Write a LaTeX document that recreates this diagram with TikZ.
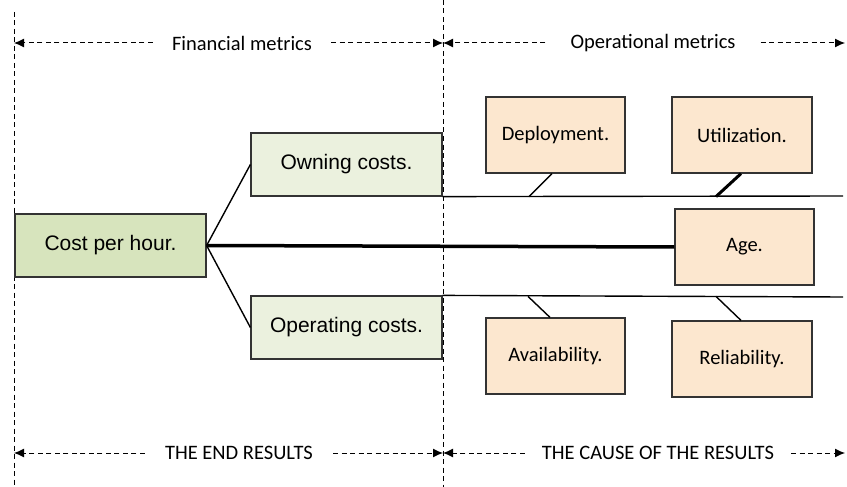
\documentclass[tikz,border=0pt]{standalone}
\usepackage{fontspec}
\setmainfont{Carlito}
\newfontfamily\arialfont{Liberation Sans}
\usetikzlibrary{arrows.meta}

\definecolor{costgreen}{HTML}{D7E4BD}
\definecolor{palegreen}{HTML}{EBF1DE}
\definecolor{peach}{HTML}{FCE7CF}
\definecolor{edgegray}{HTML}{333333}

\tikzset{
  greenbox/.style={draw=edgegray, line width=1.2pt, minimum width=191pt, minimum height=63pt,
    font=\arialfont\fontsize{21}{25}\selectfont, inner sep=0pt},
  factorbox/.style={draw=edgegray, line width=1.2pt, fill=peach, minimum height=76pt,
    font=\fontsize{20.5}{24}\selectfont, inner sep=0pt},
  divider/.style={line width=1pt, dash pattern=on 5pt off 3.5pt},
  span/.style={line width=1pt, dash pattern=on 5pt off 3.5pt,
    -{Latex[length=10pt,width=9pt]}},
  spanlabel/.style={font=\fontsize{20.5}{24}\selectfont, inner ysep=0pt},
  branch/.style={line width=1.4pt},
  trunk/.style={line width=3.5pt},
}

\begin{document}
\begin{tikzpicture}[x=1pt, y=-1pt]
  \useasboundingbox (0,0) rectangle (847,487);

  % vertical dividers
  \coordinate (leftTop) at (14,12);
  \coordinate (leftBot) at (14,487);
  \coordinate (midTop) at (443,0);
  \coordinate (midBot) at (443,487);
  \draw[divider] (leftTop) -- (leftBot);
  \draw[divider] (midTop) -- (midBot);

  % span end points
  \coordinate (tl) at (14,43);
  \coordinate (tm) at (443,43);
  \coordinate (tr) at (845,43);
  \coordinate (bl) at (14,453);
  \coordinate (bm) at (443,453);
  \coordinate (br) at (845,453);

  % top spans
  \node[spanlabel, inner xsep=19pt] (fin) at (242,43) {Financial metrics};
  \draw[span] (fin.west) -- (tl);
  \draw[span] (fin.east) -- (tm);
  \node[spanlabel, inner xsep=25pt] (ops) at (653,43) {Operational metrics};
  \draw[span] (ops.west) -- (tm);
  \draw[span] (ops.east) -- (tr);

  % bottom spans
  \node[spanlabel, inner xsep=20pt] (endres) at (239,453) {THE END RESULTS};
  \draw[span] (endres.west) -- (bl);
  \draw[span] (endres.east) -- (bm);
  \node[spanlabel, inner xsep=17pt] (cause) at (658,453) {THE CAUSE OF THE RESULTS};
  \draw[span] (cause.west) -- (bm);
  \draw[span] (cause.east) -- (br);

  % cost boxes
  \node[greenbox, fill=costgreen] (cost) at (110.5,245.5) {Cost per hour.};
  \node[greenbox, fill=palegreen] (own) at (346.5,164.5) {Owning costs.};
  \node[greenbox, fill=palegreen] (oper) at (346.5,327.5) {Operating costs.};

  % factor boxes
  \node[factorbox, minimum width=139pt] (dep) at (555.5,135) {Deployment.};
  \node[factorbox, minimum width=140pt] (util) at (742,135) {Utilization.};
  \node[factorbox, minimum width=139pt] (age) at (744.5,247) {Age.};
  \node[factorbox, minimum width=139pt] (avail) at (555.5,356) {Availability.};
  \node[factorbox, minimum width=140pt] (rel) at (742,359) {Reliability.};

  % spines
  \coordinate (topEnd) at (843,196);
  \coordinate (botEnd) at (843,297);
  \draw[branch] (own.south east) -- (topEnd);
  \draw[branch] (oper.north east) -- (botEnd);

  % branches from the result
  \draw[branch] (cost.east) -- (own.west);
  \draw[branch] (cost.east) -- (oper.west);
  \draw[trunk] (cost.east) -- (age.west);

  % factor ribs
  \draw[branch] ([xshift=-3.5pt]dep.south) -- ++(-23,23);
  \draw[trunk, line width=3pt] ([xshift=-1pt]util.south) -- ++(-25,23);
  \draw[branch] ([xshift=-5.5pt]avail.north) -- ++(-22,-21);
  \draw[branch] ([xshift=-1pt]rel.north) -- ++(-25,-24);
\end{tikzpicture}
\end{document}
